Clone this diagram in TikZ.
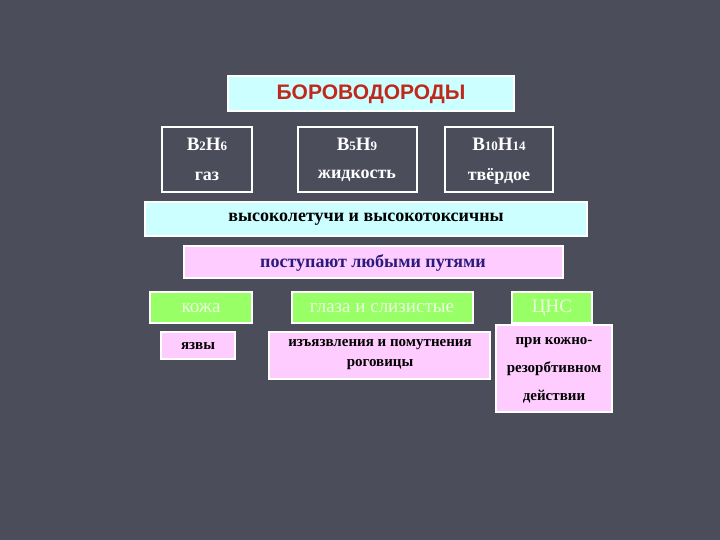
\documentclass[tikz,border=0pt]{standalone}
\usepackage{fontspec}
\setmainfont{Liberation Serif}
\newfontfamily\titlefont{Liberation Sans}
\definecolor{bg}{HTML}{4B4D5B}
\definecolor{cyanf}{HTML}{CCFFFF}
\definecolor{pinkf}{HTML}{FFCCFF}
\definecolor{greenf}{HTML}{99FF66}
\definecolor{titlered}{HTML}{C0281C}
\definecolor{navy}{HTML}{2A1C7A}
\begin{document}
\begin{tikzpicture}[x=1pt,y=-1pt,
  box/.style={draw=white,line width=1.6pt,inner sep=0pt},
  lbl/.style={font=\bfseries\fontsize{19}{21}\selectfont,align=center},
  grn/.style={font=\fontsize{19}{21}\selectfont,text=white!80!greenf},
  eff/.style={font=\bfseries\fontsize{15}{19}\selectfont,align=center,text=black}]
\fill[bg] (0,0) rectangle (720,540);
\useasboundingbox (0,0) rectangle (720,540);
% title
\draw[box,fill=cyanf] (228,76) rectangle (514,111);
\node[font=\titlefont\bfseries\fontsize{21}{23}\selectfont,text=titlered] (t) at (371,94) {БОРОВОДОРОДЫ};
% compounds
\draw[box] (162,127) rectangle (252,192);
\draw[box] (298,127) rectangle (417,192);
\draw[box] (445,127) rectangle (553,192);
\node[lbl,text=white] (c1) at (207,144) {B{\fontsize{13}{13}\selectfont 2}H{\fontsize{13}{13}\selectfont 6}};
\node[lbl,text=white] (c2) at (357,144) {B{\fontsize{13}{13}\selectfont 5}H{\fontsize{13}{13}\selectfont 9}};
\node[lbl,text=white] (c3) at (499,144) {B{\fontsize{13}{13}\selectfont 10}H{\fontsize{13}{13}\selectfont 14}};
\node[lbl,font=\bfseries\fontsize{18}{21}\selectfont,text=white] (s1) at (207,176) {газ};
\node[lbl,font=\bfseries\fontsize{18}{21}\selectfont,text=white] (s2) at (357,176) {жидкость};
\node[lbl,font=\bfseries\fontsize{18}{21}\selectfont,text=white] (s3) at (499,176) {твёрдое};
% bands
\draw[box,fill=cyanf] (145,202) rectangle (587,236);
\node[lbl,font=\bfseries\fontsize{18}{20}\selectfont,text=black] (v) at (366,219) {высоколетучи и высокотоксичны};
\draw[box,fill=pinkf] (184,246) rectangle (563,278);
\node[lbl,font=\bfseries\fontsize{18}{20}\selectfont,text=navy] (p) at (373,263) {поступают любыми путями};
% routes
\draw[box,fill=greenf] (150,292) rectangle (252,323);
\draw[box,fill=greenf] (292,292) rectangle (473,323);
\draw[box,fill=greenf] (512,292) rectangle (592,323);
\node[grn] (r1) at (201,308) {кожа};
\node[grn] (r2) at (382,308) {глаза и слизистые};
\node[grn] (r3) at (552,308) {ЦНС};
% effects
\draw[box,fill=pinkf] (161,332) rectangle (235,359);
\draw[box,fill=pinkf] (269,332) rectangle (490,379);
\draw[box,fill=pinkf] (496,325) rectangle (612,412);
\node[eff] (e1) at (198,346) {язвы};
\node[eff,font=\bfseries\fontsize{15}{20}\selectfont] (e2) at (380,355) {изъязвления и помутнения\\роговицы};
\node[eff,font=\bfseries\fontsize{15}{28}\selectfont] (e3) at (554,370) {при кожно-\\резорбтивном\\действии};
\end{tikzpicture}
\end{document}
